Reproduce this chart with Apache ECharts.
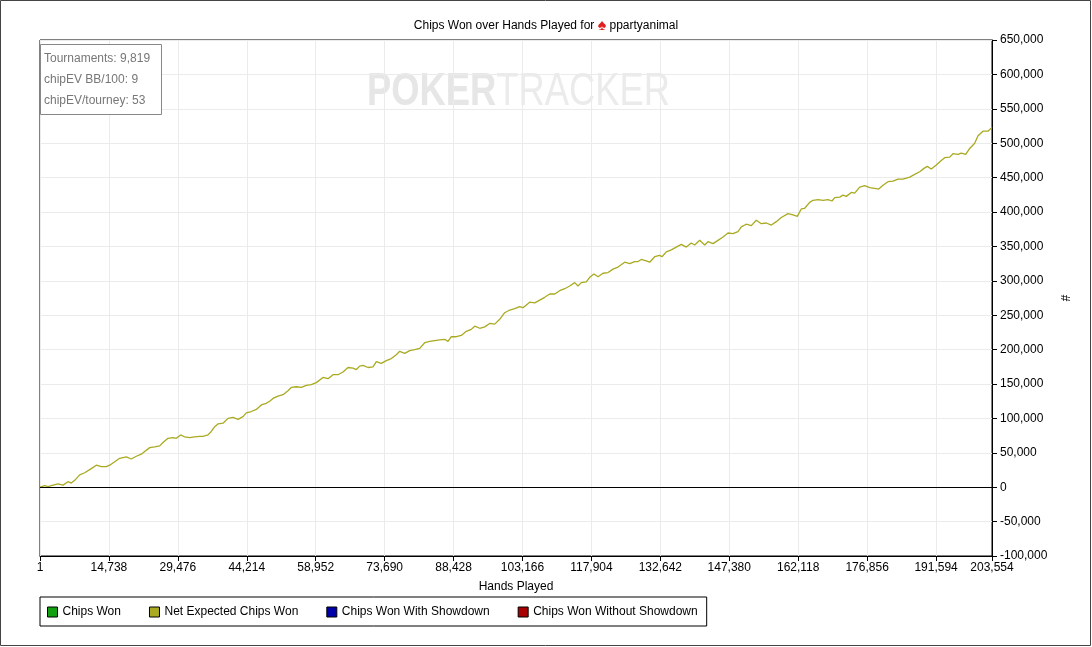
<!DOCTYPE html>
<html>
<head>
<meta charset="utf-8">
<script src="https://cdn.jsdelivr.net/npm/echarts@6/dist/echarts.min.js"></script>
<style>
  html, body { margin: 0; padding: 0; background: #fff; }
  #container { width: 1092px; height: 647px; }
</style>
</head>
<body>
<div id="container"></div>
<script>
// hands played (x) and net expected chips won (y)
var hands = [1, 1005, 1711, 2780, 3849, 4918, 5987, 6693, 7419, 8489, 9558, 10969, 12038, 13107, 14176,
  14903, 15972, 17041, 18453, 19522, 20591, 21660, 22387, 23456, 24525, 25594, 26299, 27369, 28438,
  29143, 30084, 30939, 32008, 33077, 34146, 34852, 35921, 36627, 37354, 38060, 39129, 40198, 41267,
  42336, 43406, 44111, 45180, 46249, 47318, 48387, 49114, 49820, 50889, 51958, 53027, 53733, 54802,
  55871, 56940, 58009, 59078, 60511, 61580, 62649, 63718, 64788, 65857, 66926, 67631, 68358, 69064,
  70133, 71202, 71908, 72977, 74046, 75115, 76185, 76912, 77981, 79050, 80119, 81188, 82257, 83326,
  84395, 85464, 86533, 87239, 87944, 89013, 90082, 91151, 92221, 92948, 94017, 95086, 96155, 97224,
  98293, 99362, 100431, 101500, 102569, 103274, 104707, 105776, 106845, 107914, 108983, 110052, 111121,
  112190, 113259, 114328, 115034, 115740, 116809, 117536, 118455, 119310, 120379, 121448, 122517,
  123586, 125019, 126088, 127157, 127863, 128569, 129638, 130365, 131434, 132503, 132994, 133914,
  134983, 136052, 137121, 138190, 139259, 139986, 141055, 142124, 142830, 143899, 144968, 146037,
  147106, 148175, 149244, 149950, 151019, 152088, 153157, 154226, 155295, 156364, 157433, 158502,
  159935, 161004, 161923, 162779, 163505, 164574, 165280, 166349, 167418, 168487, 169343, 169920,
  170989, 171695, 172400, 173469, 174196, 175265, 176334, 177403, 178472, 179328, 180247, 181316,
  182385, 183454, 184523, 184887, 185956, 187025, 188094, 189013, 189719, 190574, 191643, 192584,
  193440, 194509, 195214, 196283, 196989, 197930, 198785, 199854, 200560, 201629, 202698, 203554];

var netExpected = [0, 2200, 1000, 3000, 5000, 3000, 8000, 6000, 10000, 18000, 21000, 27000, 32000, 30000, 30000,
  32000, 37000, 42000, 44000, 41000, 45000, 48000, 52000, 57500, 58500, 60000, 65000, 71000, 72000,
  71000, 76000, 73000, 72000, 73000, 74000, 74000, 76000, 81000, 88000, 92000, 93000, 100000, 101500,
  98600, 102500, 108000, 110000, 113000, 119500, 122000, 125000, 129000, 132500, 134500, 140300, 145000, 146000,
  145000, 148000, 149000, 152000, 159600, 157700, 163500, 163500, 167400, 174000, 173000, 171000, 176000, 177000,
  174000, 175000, 182500, 180000, 184000, 187000, 192600, 197500, 194600, 198500, 200000, 201800, 210000, 212000,
  213000, 214000, 215000, 212000, 218700, 218700, 220600, 226500, 229400, 234000, 231000, 233000, 238000, 237000,
  244000, 253600, 257500, 259500, 262500, 261000, 269000, 268000, 272000, 276000, 280800, 280800, 285600,
  288500, 292400, 297300, 292400, 297300, 298300, 305000, 310000, 306000, 311000, 312000, 317000,
  320000, 327000, 325000, 328000, 328000, 331000, 329000, 327000, 335000, 337000, 335000, 342000,
  345000, 349000, 353000, 349000, 354900, 352000, 358800, 352000, 356800, 354000, 358800, 363600,
  369500, 368500, 371500, 378300, 382200, 380200, 388000, 383000, 384000, 381000, 386000, 392000,
  397600, 395700, 393700, 404400, 405400, 414000, 417000, 418000, 417000, 418000, 416000, 420800,
  421700, 424600, 422700, 428500, 427500, 436200, 438200, 435300, 434300, 433300, 439000, 444000,
  445000, 447900, 447900, 446000, 450800, 454600, 458500, 463400, 466300, 462400, 468200, 474000,
  478900, 479800, 484700, 483700, 485700, 483700, 492400, 500000, 510800, 517500, 517500, 523000];

var xTicks = [1, 14738, 29476, 44214, 58952, 73690, 88428, 103166, 117904, 132642, 147380, 162118, 176856, 191594, 203554];
var seriesNames = ['Chips Won', 'Net Expected Chips Won', 'Chips Won With Showdown', 'Chips Won Without Showdown'];
var seriesColors = ['#10a010', '#a0a000', '#0000a8', '#a80000'];
var infoLines = ['Tournaments: 9,819', 'chipEV BB/100: 9', 'chipEV/tourney: 53'];

var dom = document.getElementById('container');
var myChart = echarts.init(dom);
var font = 'Liberation Sans, Arial, sans-serif';

function fmt(v) {
  return Math.round(v).toLocaleString('en-US');
}

var lineData = [];
for (var i = 0; i < hands.length; i++) {
  lineData.push([hands[i], netExpected[i]]);
}

var series = [];
for (var k = 0; k < seriesNames.length; k++) {
  var s = {
    name: seriesNames[k],
    type: 'line',
    color: seriesColors[k],
    showSymbol: false,
    animation: false,
    lineStyle: { width: 1.3 },
    data: []
  };
  if (k == 1) {
    s.color = '#aaaa22';
    s.data = lineData;
    s.markLine = {
      silent: true,
      symbol: 'none',
      label: { show: false },
      lineStyle: { color: '#000', width: 1, type: 'solid' },
      data: [{ yAxis: 0 }]
    };
  }
  series.push(s);
}

var option = {
  backgroundColor: '#fff',
  animation: false,
  title: [{
    text: 'Chips Won over Hands Played for {s|♠} ppartyanimal',
    left: 'center',
    top: 13,
    textStyle: {
      fontFamily: font, fontSize: 12, fontWeight: 'normal', color: '#000',
      rich: { s: { color: '#e02020', fontSize: 16, fontFamily: font } }
    }
  }, {
    text: infoLines.join('\n'),
    left: 40,
    top: 44,
    padding: [4, 12, 4, 4],
    borderColor: '#888',
    borderWidth: 1,
    backgroundColor: '#fff',
    textStyle: {
      fontFamily: font, fontSize: 12, fontWeight: 'normal', color: '#777', lineHeight: 21
    }
  }],
  graphic: [{
    type: 'rect',
    shape: { x: 0.5, y: 0.5, width: 1090, height: 645 },
    style: { fill: 'none', stroke: '#444', lineWidth: 1 },
    silent: true
  }, {
    type: 'text',
    left: 367, top: 69,
    z: -1,
    silent: true,
    style: {
      text: '{b|POKER}{n|TRACKER}',
      rich: {
        b: { fontFamily: font, fontSize: 46, fontWeight: 'bold', fill: '#e6e6e6' },
        n: { fontFamily: font, fontSize: 46, fontWeight: 'normal', fill: '#ebebeb' }
      }
    },
    scaleX: 0.79
  }],
  legend: {
    data: seriesNames,
    left: 40,
    top: 597,
    padding: [9, 9, 8, 7],
    borderColor: '#000',
    borderWidth: 1,
    itemGap: 28,
    itemWidth: 10,
    itemHeight: 10,
    icon: 'rect',
    itemStyle: { borderColor: '#000', borderWidth: 1 },
    textStyle: { fontFamily: font, fontSize: 12, color: '#000' }
  },
  grid: {
    left: 40, right: 100, top: 40, bottom: 91,
    show: true, borderColor: '#000', borderWidth: 1
  },
  xAxis: {
    type: 'value',
    min: 1,
    max: 203554,
    name: 'Hands Played',
    nameLocation: 'middle',
    nameGap: 25,
    nameTextStyle: { fontFamily: font, fontSize: 12, color: '#000' },
    axisLine: { onZero: false, lineStyle: { color: '#000' } },
    axisTick: { show: true, length: 5, lineStyle: { color: '#000' }, customValues: xTicks },
    axisLabel: {
      customValues: xTicks,
      formatter: fmt,
      fontFamily: font, fontSize: 12, color: '#000', margin: 6
    },
    splitLine: { show: true, lineStyle: { color: '#ebebeb' } }
  },
  yAxis: {
    type: 'value',
    position: 'right',
    min: -100000,
    max: 650000,
    interval: 50000,
    name: '#',
    nameLocation: 'middle',
    nameGap: 62,
    nameRotate: -90,
    nameTextStyle: { fontFamily: font, fontSize: 12, color: '#000' },
    axisLine: { show: true, lineStyle: { color: '#000' } },
    axisTick: { show: true, length: 5, lineStyle: { color: '#000' } },
    axisLabel: { formatter: fmt, fontFamily: font, fontSize: 12, color: '#000', margin: 8 },
    splitLine: { show: true, lineStyle: { color: '#ebebeb' } }
  },
  series: series
};

if (option && typeof option === 'object') {
  myChart.setOption(option, true);
}
</script>
</body>
</html>
